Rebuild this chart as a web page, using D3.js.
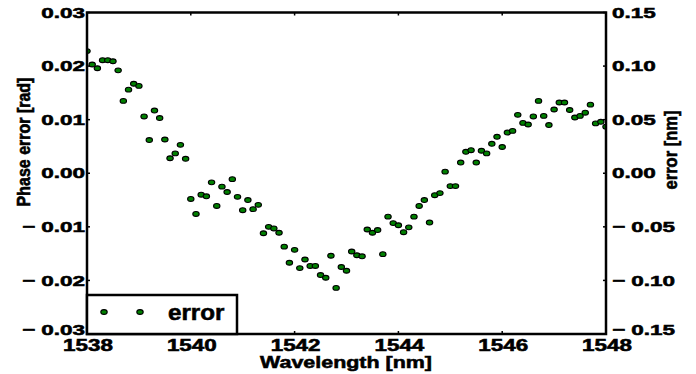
<!DOCTYPE html>
<html>
<head>
<meta charset="utf-8">
<script src="https://cdn.jsdelivr.net/npm/d3@7"></script>
<style>
  body { margin: 0; background: #fff; }
  text { font-family: "Liberation Sans", Arial, sans-serif; font-weight: bold; fill: #000;
         stroke: #000; stroke-width: 0.55px; }
</style>
</head>
<body>
<div id="chart"></div>
<script>
// data: wavelength [nm] and phase error [rad]
var wavelength = [
  1538.0, 1538.1, 1538.2, 1538.3, 1538.4, 1538.5, 1538.6, 1538.7, 1538.8, 1538.9,
  1539.0, 1539.1, 1539.2, 1539.3, 1539.4, 1539.5, 1539.6, 1539.7, 1539.8, 1539.9,
  1540.0, 1540.1, 1540.2, 1540.3, 1540.4, 1540.5, 1540.6, 1540.7, 1540.8, 1540.9,
  1541.0, 1541.1, 1541.2, 1541.3, 1541.4, 1541.5, 1541.6, 1541.7, 1541.8, 1541.9,
  1542.0, 1542.1, 1542.2, 1542.3, 1542.4, 1542.5, 1542.6, 1542.7, 1542.8, 1542.9,
  1543.0, 1543.1, 1543.2, 1543.3, 1543.4, 1543.5, 1543.6, 1543.7, 1543.8, 1543.9,
  1544.0, 1544.1, 1544.2, 1544.3, 1544.4, 1544.5, 1544.6, 1544.7, 1544.8, 1544.9,
  1545.0, 1545.1, 1545.2, 1545.3, 1545.4, 1545.5, 1545.6, 1545.7, 1545.8, 1545.9,
  1546.0, 1546.1, 1546.2, 1546.3, 1546.4, 1546.5, 1546.6, 1546.7, 1546.8, 1546.9,
  1547.0, 1547.1, 1547.2, 1547.3, 1547.4, 1547.5, 1547.6, 1547.7, 1547.8, 1547.9,
  1548.0
];
var phaseError = [
  0.0228, 0.0203, 0.0196, 0.0211, 0.0211, 0.0209, 0.0192, 0.0135, 0.0156, 0.0167,
  0.0163, 0.0106, 0.0062, 0.0117, 0.0103, 0.0063, 0.0028, 0.0037, 0.0053, 0.0027,
  -0.0048, -0.0076, -0.0040, -0.0043, -0.0017, -0.0061, -0.0025, -0.0035, -0.0011, -0.0044,
  -0.0069, -0.0050, -0.0067, -0.0059, -0.0112, -0.0100, -0.0103, -0.0111, -0.0137, -0.0167,
  -0.0143, -0.0177, -0.0161, -0.0173, -0.0173, -0.0190, -0.0195, -0.0154, -0.0214, -0.0175,
  -0.0182, -0.0146, -0.0153, -0.0155, -0.0105, -0.0111, -0.0106, -0.0151, -0.0081, -0.0093,
  -0.0097, -0.0110, -0.0101, -0.0081, -0.0061, -0.0050, -0.0092, -0.0041, -0.0037, 0.0003,
  -0.0024, -0.0024, 0.0020, 0.0040, 0.0043, 0.0020, 0.0042, 0.0037, 0.0055, 0.0068,
  0.0049, 0.0076, 0.0079, 0.0109, 0.0094, 0.0091, 0.0106, 0.0135, 0.0107, 0.0090,
  0.0119, 0.0132, 0.0132, 0.0118, 0.0104, 0.0107, 0.0113, 0.0128, 0.0093, 0.0096,
  0.0087
];
var xTicks = [1538, 1540, 1542, 1544, 1546, 1548];
var yTicks = [-0.03, -0.02, -0.01, 0.00, 0.01, 0.02, 0.03];
var y2Ticks = [-0.15, -0.10, -0.05, 0.00, 0.05, 0.10, 0.15];
var legendLabel = "error";

var width = 696, height = 374;
var plot = {left: 87, right: 606, top: 12.5, bottom: 334};

var xScale = d3.scaleLinear().domain([1538, 1548]).range([plot.left, plot.right]),
    yScale = d3.scaleLinear().domain([-0.03, 0.03]).range([plot.bottom, plot.top]),
    y2Scale = d3.scaleLinear().domain([-0.15, 0.15]).range([plot.bottom, plot.top]);

var svg = d3.select("#chart").append("svg")
    .attr("width", width)
    .attr("height", height);

svg.append("defs").append("clipPath").attr("id", "clip")
  .append("rect")
    .attr("x", plot.left).attr("y", plot.top)
    .attr("width", plot.right - plot.left)
    .attr("height", plot.bottom - plot.top);

function fmt(v) {
  var s = Math.abs(v).toFixed(2);
  return v < -1e-9 ? "\u2212 " + s : s;
}

// stretched text (the picture is wider than it was drawn)
function label(txt, x, y, sx, size, anchor, rot) {
  return svg.append("text")
    .attr("transform", "translate(" + x + "," + y + ") scale(" + sx + ",1)" + (rot ? " rotate(" + rot + ")" : ""))
    .attr("text-anchor", anchor)
    .attr("dominant-baseline", "central")
    .style("font-size", size + "px")
    .text(txt);
}

// points
svg.append("g")
    .attr("clip-path", "url(#clip)")
  .selectAll("ellipse")
    .data(wavelength)
  .enter().append("ellipse")
    .attr("cx", function(d) { return xScale(d); })
    .attr("cy", function(d, i) { return yScale(phaseError[i]); })
    .attr("rx", 3.2)
    .attr("ry", 2.4)
    .attr("fill", "#008000")
    .attr("stroke", "#000")
    .attr("stroke-width", 1.1);

// ticks (inward)
var tl = 3;
var ticks = svg.append("g").attr("stroke", "#000").attr("stroke-width", 1.5);
xTicks.forEach(function(t) {
  ticks.append("line").attr("x1", xScale(t)).attr("x2", xScale(t)).attr("y1", plot.bottom).attr("y2", plot.bottom - tl);
  ticks.append("line").attr("x1", xScale(t)).attr("x2", xScale(t)).attr("y1", plot.top).attr("y2", plot.top + tl);
});
yTicks.forEach(function(t) {
  ticks.append("line").attr("x1", plot.left).attr("x2", plot.left + tl).attr("y1", yScale(t)).attr("y2", yScale(t));
});
y2Ticks.forEach(function(t) {
  ticks.append("line").attr("x1", plot.right).attr("x2", plot.right - tl).attr("y1", y2Scale(t)).attr("y2", y2Scale(t));
});

// frame
svg.append("rect")
    .attr("x", plot.left).attr("y", plot.top)
    .attr("width", plot.right - plot.left)
    .attr("height", plot.bottom - plot.top)
    .attr("fill", "none")
    .attr("stroke", "#000")
    .attr("stroke-width", 2.5);

// tick labels (the lowest y labels sit a little higher in the original)
xTicks.forEach(function(t) {
  label(String(t), xScale(t) + 1, 345, 1.4, 16, "middle");
});
yTicks.forEach(function(t, i) {
  label(fmt(t), 85, yScale(t) - (i === 0 ? 4.5 : 0), 1.45, 15.5, "end");
});
y2Ticks.forEach(function(t, i) {
  label(fmt(t), 612, y2Scale(t) - (i === 0 ? 4.5 : 0), 1.45, 15.5, "start");
});

// axis titles
label("Wavelength [nm]", 346, 362, 1.3, 16.5, "middle");
label("Phase error [rad]", 24, 142, 1.15, 16, "middle", -90);
label("error [nm]", 671, 150, 1.15, 16.5, "middle", -90);

// legend
var lg = svg.append("g");
lg.append("rect")
    .attr("x", plot.left).attr("y", 295)
    .attr("width", 150).attr("height", plot.bottom - 295)
    .attr("fill", "#fff")
    .attr("stroke", "#000")
    .attr("stroke-width", 2.5);
[104, 140].forEach(function(cx) {
  lg.append("ellipse")
    .attr("cx", cx).attr("cy", 312)
    .attr("rx", 3.2).attr("ry", 2.4)
    .attr("fill", "#008000")
    .attr("stroke", "#000")
    .attr("stroke-width", 1.1);
});
label(legendLabel, 168, 312, 1.1, 22, "start");
</script>
</body>
</html>
